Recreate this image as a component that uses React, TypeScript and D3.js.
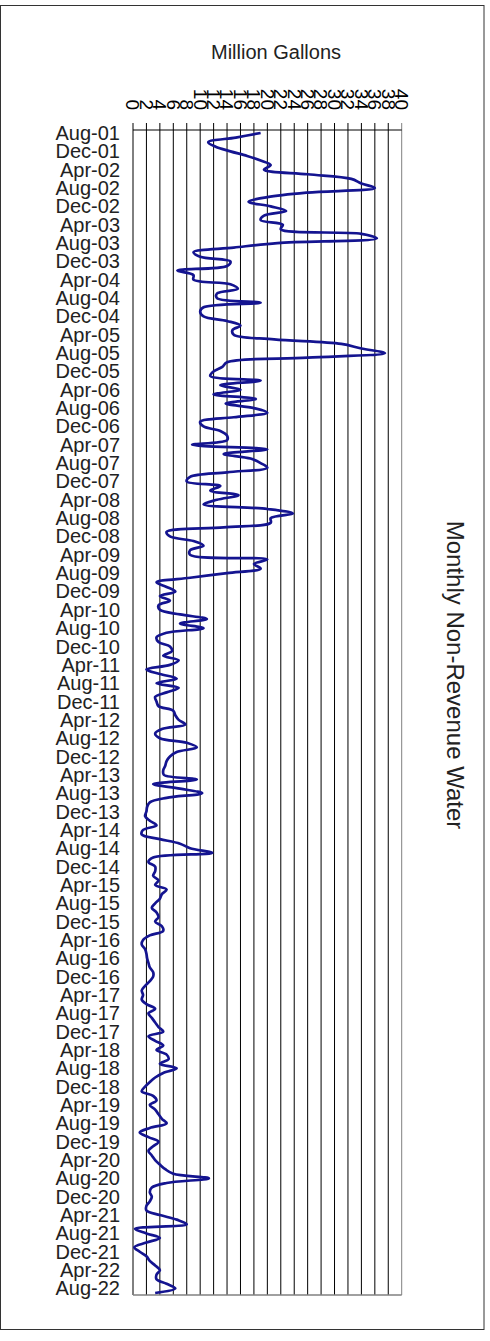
import React from "react";
import * as d3 from "d3";

// monthly non-revenue water, million gallons, Aug-01 .. Sep-22
const fy2002 = [19.0, 15.3, 11.2, 12.3, 14.5, 17, 19, 20.5, 19.5, 26, 32.5, 34];
const fy2003 = [36, 26, 20, 17.2, 20.5, 22.8, 19.5, 19, 22.3, 22, 34, 36.3];
const fy2004 = [21.5, 15, 9, 10, 14.5, 14, 6.6, 9, 9, 14.5, 15.6, 12.5];
const fy2005 = [12.5, 19, 10.5, 10, 10.5, 14, 16, 14.8, 15, 21, 31, 34];
const fy2006 = [37.5, 26, 14, 13.3, 12, 11.5, 19, 13, 16, 12, 18.3, 13.8];
const fy2007 = [18, 20, 15, 10, 10.5, 13, 14, 14, 8.8, 20, 13.5, 17.5];
const fy2008 = [19, 20, 14, 8.5, 8, 13, 11.5, 15.7, 12.5, 10.5, 20, 23.8];
const fy2009 = [20.5, 20.5, 13.5, 5, 5.5, 9, 10.5, 8.5, 8.5, 20, 18, 19];
const fy2010 = [14, 8.5, 3.5, 5, 6.3, 4, 5.5, 3.8, 4, 7, 11, 7];
const fy2011 = [10.5, 5, 3.5, 3.8, 5.5, 5.8, 4.5, 6.8, 5.5, 2, 4, 6.5];
const fy2012 = [3.5, 6.8, 5, 3.3, 3.5, 3.8, 6, 6.3, 6.8, 7.8, 4.3, 3.3];
const fy2013 = [4, 8, 9.5, 6.5, 5.5, 5, 4.8, 4.5, 4.6, 9.5, 3, 7];
const fy2014 = [10.3, 5, 2.5, 2.1, 2, 1.8, 2.5, 3.5, 1.5, 1.3, 4, 7];
const fy2015 = [8.5, 11.8, 3, 2.3, 3.3, 3.3, 3, 3.8, 3.3, 5, 4.3, 4];
const fy2016 = [3.3, 2.8, 3.5, 3.8, 3.3, 4.3, 4.5, 2.5, 1.5, 1.3, 1.8, 2];
const fy2017 = [2.1, 2.3, 2.5, 3, 3, 2.5, 1.8, 1.3, 1.5, 1.3, 2, 3.3];
const fy2018 = [2.3, 2.8, 3.3, 3.8, 4.5, 2.3, 3.3, 4.5, 3.5, 5, 5.3, 4];
const fy2019 = [6.5, 4.5, 3.3, 2.5, 1.8, 1.3, 3, 3.5, 2.5, 3.3, 3.8, 4.3];
const fy2020 = [5, 2.5, 1, 2.3, 3.8, 3, 2.3, 2.8, 3.3, 4, 4.8, 6];
const fy2021 = [11.3, 5, 2.8, 2.5, 2.8, 2.5, 2, 2, 4, 6.5, 8, 0.3];
const fy2022 = [2, 4, 2, 0.2, 1, 2, 2.5, 3.3, 4, 3.5, 3.5, 5];
const fy2023 = [6.3, 3.3];

const values = [
  ...fy2002, ...fy2003, ...fy2004, ...fy2005, ...fy2006, ...fy2007, ...fy2008,
  ...fy2009, ...fy2010, ...fy2011, ...fy2012, ...fy2013, ...fy2014, ...fy2015,
  ...fy2016, ...fy2017, ...fy2018, ...fy2019, ...fy2020, ...fy2021, ...fy2022,
  ...fy2023,
];

const fmt = d3.timeFormat("%b-%y");
const months = d3.timeMonth.range(new Date(2001, 7, 1), new Date(2001, 7 + values.length, 1)).map(fmt);
const data = months.map((m, i) => ({ month: m, value: values[i] }));

const xTicks = d3.range(0, 41, 2);

const App = () => {
  const width = 490;
  const height = 1341;
  const plot = { left: 133, right: 401.7, top: 130, bottom: 1295 };

  const xScale = d3.scaleLinear().domain([0, 40]).range([plot.left, plot.right]);
  const yScale = d3.scalePoint<string>().domain(months).range([133, 1293]);

  const line = d3
    .line<{ month: string; value: number }>()
    .x(d => xScale(d.value))
    .y(d => yScale(d.month) as number)
    .curve(d3.curveCatmullRom);

  const font = "'Liberation Sans', Arial, sans-serif";

  return (
    <svg width={width} height={height} style={{ position: "absolute", left: 0, top: 0 }} fontFamily={font}>
      <rect x={0} y={0} width={width} height={height} fill="#fff" />
      <rect x={0.5} y={5.5} width={483.5} height={1324} fill="none" stroke="#333" />

      <text x={276} y={59} textAnchor="middle" fontSize={20} fill="#222">
        Million Gallons
      </text>

      {/* grid */}
      {xTicks.map((t, i) => (
        <line
          key={"g" + t}
          x1={xScale(t)}
          x2={xScale(t)}
          y1={plot.top - 7}
          y2={plot.bottom}
          stroke={i === xTicks.length - 1 ? "#808080" : "#000"}
          strokeWidth={1}
        />
      ))}
      <line x1={plot.left} x2={plot.right} y1={plot.top} y2={plot.top} stroke="#000" />
      <line x1={plot.left} x2={plot.right} y1={plot.bottom} y2={plot.bottom} stroke="#808080" strokeWidth={1.5} />

      {/* top tick labels, rotated */}
      {xTicks.map(t => (
        <text
          key={"t" + t}
          transform={`translate(${xScale(t)},${110}) rotate(90)`}
          textAnchor="end"
          dy="0.35em"
          fontSize={19}
          fill="#000"
        >
          {t}
        </text>
      ))}

      {/* month labels */}
      {months.map((m, i) =>
        i % 4 === 0 ? (
          <text key={m} x={120} y={yScale(m)} dy="0.35em" textAnchor="end" fontSize={20} fill="#222">
            {m}
          </text>
        ) : null
      )}

      <path d={line(data) || ""} fill="none" stroke="#141490" strokeWidth={2.7} />

      <text transform={`translate(447,675) rotate(90)`} textAnchor="middle" fontSize={24} fill="#222">
        Monthly Non-Revenue Water
      </text>
    </svg>
  );
};

export default App;
